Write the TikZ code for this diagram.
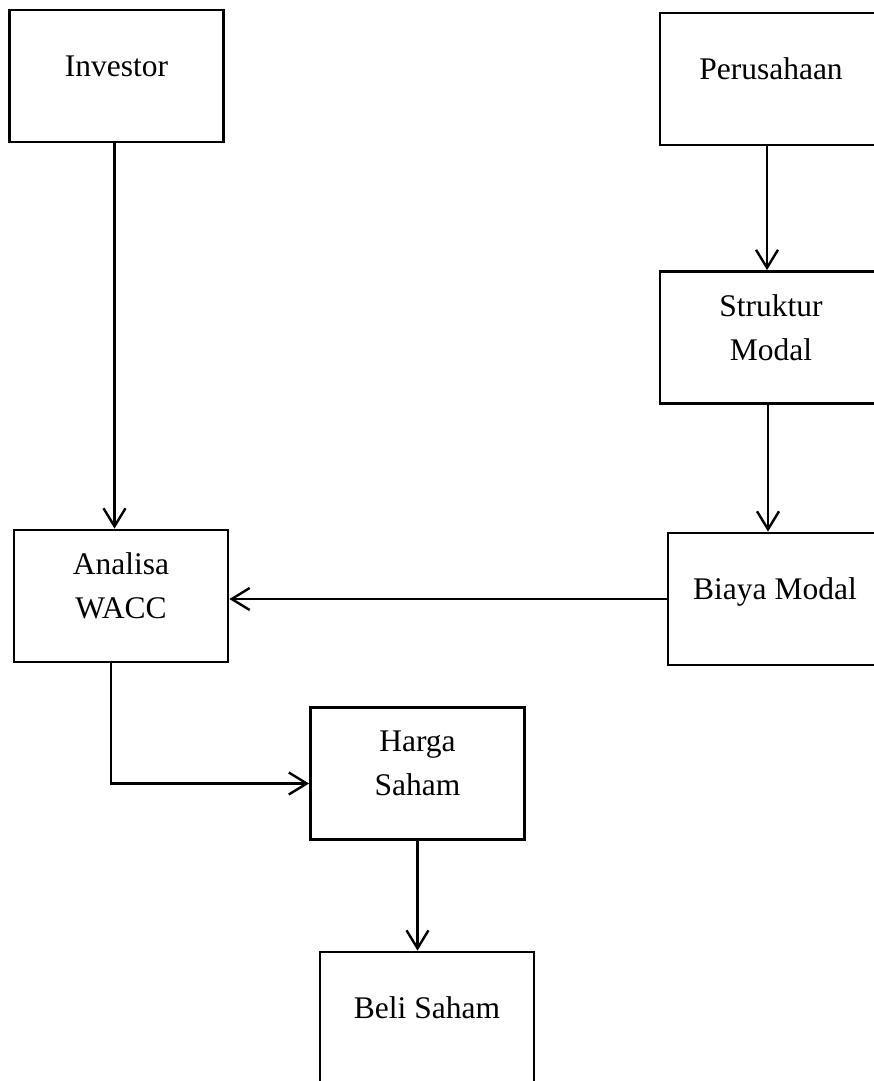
\documentclass[tikz,border=0pt]{standalone}
\usepackage{fontspec}
\setmainfont{Liberation Serif}
\usetikzlibrary{arrows.meta}

\tikzset{
  kotak/.style={draw,line width=2.8pt,minimum width=214pt,minimum height=132pt,
    inner sep=0pt,align=center,text depth=20pt,
    font=\fontsize{31.5}{44}\selectfont},
  panah/.style={line width=2.4pt,-{Straight Barb[length=18pt,width=22pt]}}
}

\begin{document}
\begin{tikzpicture}[x=1pt,y=-1pt]
\useasboundingbox (0,0) rectangle (873,1081);

\node[kotak] (inv) at (116.5,76) {Investor};
\node[kotak,minimum width=222pt] (per) at (771,79) {Perusahaan};
\node[kotak,minimum width=222pt] (str) at (771,337.5) {Struktur\\Modal};
\node[kotak] (anl) at (121,596) {Analisa\\WACC};
\node[kotak] (bym) at (775,599) {Biaya Modal};
\node[kotak] (hrg) at (417.5,773.5) {Harga\\Saham};
\node[kotak] (bel) at (427,1018) {Beli Saham};

\draw[panah] ([xshift=-2pt]inv.south) -- ([xshift=-2pt]inv.south |- anl.north);
\draw[panah] ([xshift=-4pt]per.south) -- ([xshift=-4pt]per.south |- str.north);
\draw[panah] ([xshift=-3pt]str.south) -- ([xshift=-3pt]str.south |- bym.north);
\draw[panah] (bym.west) -- (bym.west -| anl.east);
\draw[panah] ([xshift=-10pt]anl.south) |- ([yshift=-10pt]hrg.west);
\draw[panah] (hrg.south) -- (hrg.south |- bel.north);
\end{tikzpicture}
\end{document}
